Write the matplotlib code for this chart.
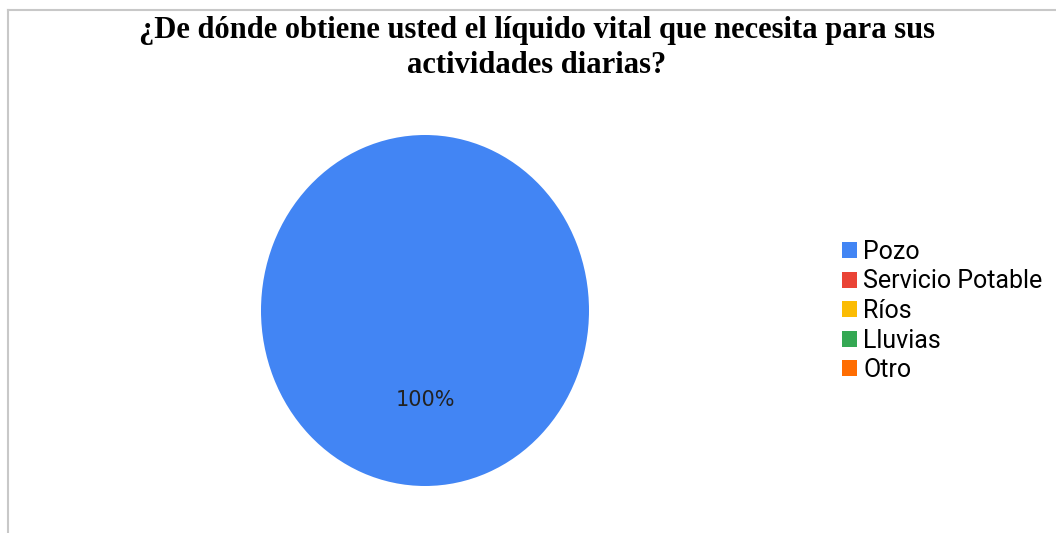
import matplotlib
matplotlib.use("Agg")
import matplotlib.pyplot as plt
from matplotlib.lines import Line2D
from matplotlib.patches import Patch

# data
categories = ["Pozo", "Servicio Potable", "Ríos", "Lluvias", "Otro"]
values = [100, 0, 0, 0, 0]
colors = ["#4285F4", "#EA4335", "#FBBC04", "#34A853", "#FF6D01"]
title = "¿De dónde obtiene usted el líquido vital que necesita para sus\nactividades diarias?"

W, H = 1056, 533
fig = plt.figure(figsize=(W / 100, H / 100), dpi=100)

# thin grey frame on the top and left, as in the source screenshot
fig.add_artist(Line2D([8 / W, 1], [1 - 10 / H, 1 - 10 / H], color="#c8c8c8", lw=1.5))
fig.add_artist(Line2D([8 / W, 8 / W], [0, 1 - 10 / H], color="#c8c8c8", lw=1.5))

fig.text(537 / W, 1 - 48 / H, title, ha="center", va="center", fontsize=22,
         fontweight="bold", family="Liberation Serif", linespacing=1.3)

# the screenshot is slightly stretched vertically, so the pie is an ellipse
cx, cy, rx, ry = 425, H - 310.5, 164, 175.5
ax = fig.add_axes([(cx - rx) / W, (cy - ry) / H, 2 * rx / W, 2 * ry / H])


def pct(p):
    return f"{p:.0f}%" if p > 0 else ""


wedges, _, autotexts = ax.pie(values, colors=colors, startangle=90, counterclock=False,
                              autopct=pct, pctdistance=0.51,
                              textprops={"fontsize": 15, "family": "DejaVu Sans", "color": "#222222"})
ax.set_xlim(-1, 1)
ax.set_ylim(-1, 1)
ax.set_aspect("auto")

handles = [Patch(facecolor=c, edgecolor="none") for c in colors]
fig.legend(handles, categories, loc="center left", bbox_to_anchor=(842 / W, 1 - 311 / H),
           frameon=False, prop={"family": "Roboto", "size": 18},
           handlelength=0.6, handleheight=0.6, handletextpad=0.25, labelspacing=0.22,
           borderpad=0, borderaxespad=0)

fig.savefig("out.png", dpi=100)
